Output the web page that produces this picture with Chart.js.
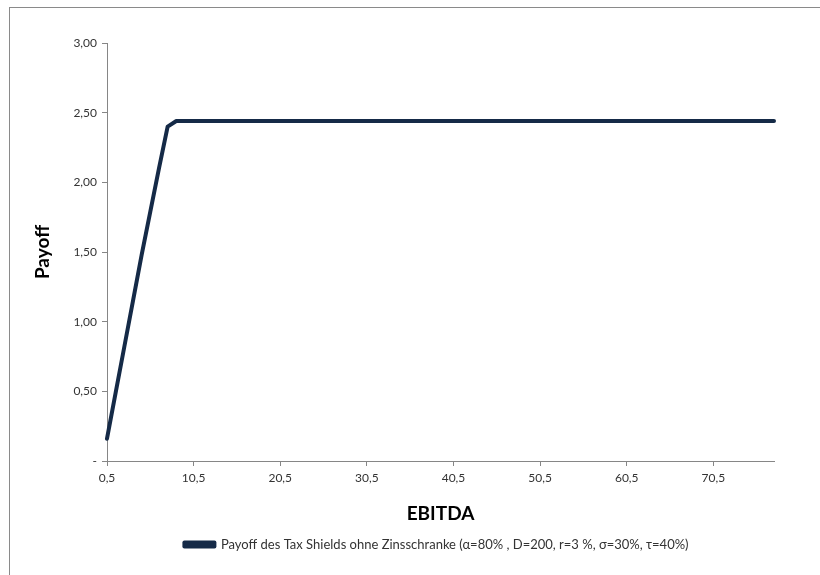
<!DOCTYPE html>
<html>
<head>
<meta charset="utf-8">
<script src="https://cdn.jsdelivr.net/npm/chart.js@4/dist/chart.umd.min.js"></script>
<style>
  html, body { margin: 0; padding: 0; background: #fff; }
  #wrap { position: relative; width: 820px; height: 575px; overflow: hidden; }
  #frame { position: absolute; left: 9px; top: 7px; width: 900px; height: 700px; border: 1px solid #8a8a8a; }
  canvas { position: absolute; left: 0; top: 0; }
</style>
</head>
<body>
<div id="wrap">
  <div id="frame"></div>
  <canvas id="chart" width="820" height="575"></canvas>
</div>
<script>
// EBITDA categories (0,5 ... 77,5)
const ebitda = [
  0.5, 1.5, 2.5, 3.5, 4.5, 5.5, 6.5, 7.5, 8.5, 9.5,
  10.5, 11.5, 12.5, 13.5, 14.5, 15.5, 16.5, 17.5, 18.5, 19.5,
  20.5, 21.5, 22.5, 23.5, 24.5, 25.5, 26.5, 27.5, 28.5, 29.5,
  30.5, 31.5, 32.5, 33.5, 34.5, 35.5, 36.5, 37.5, 38.5, 39.5,
  40.5, 41.5, 42.5, 43.5, 44.5, 45.5, 46.5, 47.5, 48.5, 49.5,
  50.5, 51.5, 52.5, 53.5, 54.5, 55.5, 56.5, 57.5, 58.5, 59.5,
  60.5, 61.5, 62.5, 63.5, 64.5, 65.5, 66.5, 67.5, 68.5, 69.5,
  70.5, 71.5, 72.5, 73.5, 74.5, 75.5, 76.5, 77.5
];

// payoff of the tax shield
const payoff = [
  0.16, 0.49, 0.82, 1.15, 1.48, 1.79, 2.10, 2.40, 2.44, 2.44,
  2.44, 2.44, 2.44, 2.44, 2.44, 2.44, 2.44, 2.44, 2.44, 2.44,
  2.44, 2.44, 2.44, 2.44, 2.44, 2.44, 2.44, 2.44, 2.44, 2.44,
  2.44, 2.44, 2.44, 2.44, 2.44, 2.44, 2.44, 2.44, 2.44, 2.44,
  2.44, 2.44, 2.44, 2.44, 2.44, 2.44, 2.44, 2.44, 2.44, 2.44,
  2.44, 2.44, 2.44, 2.44, 2.44, 2.44, 2.44, 2.44, 2.44, 2.44,
  2.44, 2.44, 2.44, 2.44, 2.44, 2.44, 2.44, 2.44, 2.44, 2.44,
  2.44, 2.44, 2.44, 2.44, 2.44, 2.44, 2.44, 2.44
];

const yTicks = ['-', '0,50', '1,00', '1,50', '2,00', '2,50', '3,00'];
const seriesName = 'Payoff des Tax Shields ohne Zinsschranke (\u03B1=80% , D=200, r=3 %, \u03C3=30%, \u03C4=40%)';

const lineColor = '#152a47';
const axisColor = '#868686';
const textColor = '#333333';
const tickFont = { family: 'Lato, "Open Sans", sans-serif', size: 12 };

// legend sits a bit right of the plot centre in the original
const shiftLegend = {
  id: 'shiftLegend',
  afterLayout(chart) {
    const lg = chart.legend;
    if (lg) { lg.left += 34; lg.right += 34; }
  }
};

new Chart(document.getElementById('chart'), {
  type: 'line',
  data: {
    labels: ebitda,
    datasets: [{
      label: seriesName,
      data: payoff,
      borderColor: lineColor,
      backgroundColor: lineColor,
      borderWidth: 4,
      pointRadius: 0,
      tension: 0,
      borderJoinStyle: 'round',
      borderCapStyle: 'round'
    }]
  },
  options: {
    responsive: false,
    animation: false,
    layout: { padding: { left: 31, right: 46, top: 43, bottom: 14 } },
    plugins: {
      tooltip: { enabled: false },
      legend: {
        position: 'bottom',
        labels: {
          boxWidth: 30,
          boxHeight: 4,
          padding: 10,
          color: textColor,
          font: { family: 'Lato, "Open Sans", sans-serif', size: 13 }
        }
      }
    },
    scales: {
      x: {
        type: 'category',
        offset: false,
        afterFit: (s) => { s.height = 67; },
        border: { color: axisColor, width: 1 },
        grid: {
          drawOnChartArea: false,
          drawTicks: true,
          tickLength: 5,
          tickColor: (ctx) => (ctx.index % 10 === 0 ? axisColor : 'rgba(0,0,0,0)')
        },
        ticks: {
          autoSkip: false,
          maxRotation: 0,
          padding: 5,
          color: textColor,
          font: tickFont,
          callback: (v, i) => (i % 10 === 0 ? String(ebitda[i]).replace('.', ',') : '')
        },
        title: {
          display: true,
          text: 'EBITDA',
          color: '#000',
          font: { family: 'Lato, "Open Sans", sans-serif', size: 19, weight: 'bold' },
          padding: { top: 0, bottom: 3 }
        }
      },
      y: {
        min: 0,
        max: 3,
        afterFit: (s) => { s.width = 76; },
        border: { color: axisColor, width: 1 },
        grid: { drawOnChartArea: false, drawTicks: true, tickLength: 5, tickColor: axisColor },
        ticks: {
          stepSize: 0.5,
          padding: 5,
          color: textColor,
          font: tickFont,
          callback: (v) => yTicks[Math.round(v * 2)]
        },
        title: {
          display: true,
          text: 'Payoff',
          color: '#000',
          font: { family: 'Lato, "Open Sans", sans-serif', size: 19, weight: 'bold' },
          padding: { top: 0, bottom: 0 }
        }
      }
    }
  },
  plugins: [shiftLegend]
});
</script>
</body>
</html>
